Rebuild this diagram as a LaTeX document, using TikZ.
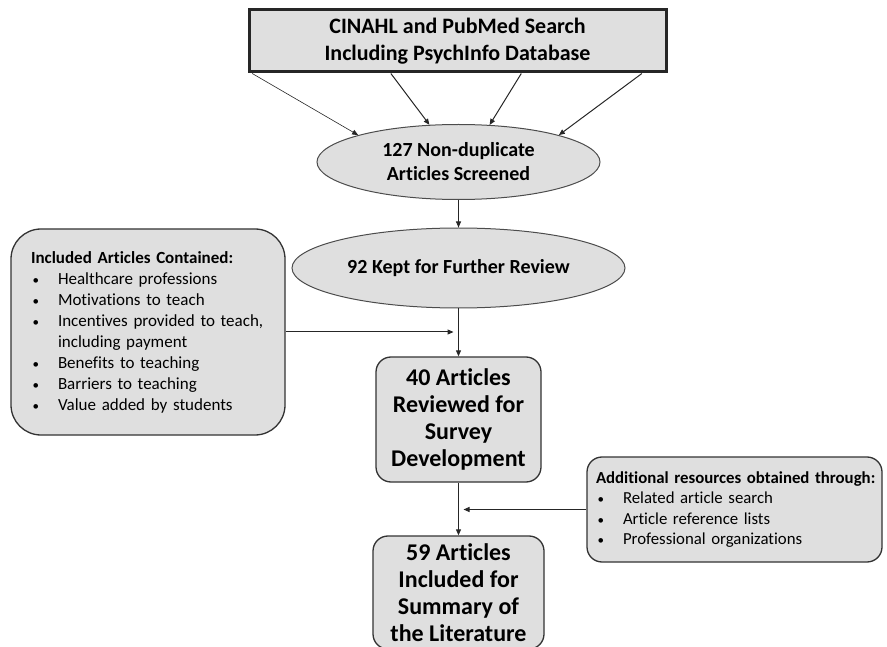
\documentclass[tikz,border=0pt]{standalone}
\usepackage{fontspec}
\setmainfont{Carlito}[Ligatures=NoCommon]
\usetikzlibrary{positioning}
\usetikzlibrary{shapes.geometric}
\usetikzlibrary{arrows.meta}

\newcommand{\itm}[1]{\makebox[27pt][l]{\hspace{1.5pt}{\fontsize{13}{13}\selectfont •}}#1}
\tikzset{
	stagebox/.style={draw=black!80,line width=1.3pt,fill=gray!25,rounded corners=15pt,align=center,
		font=\bfseries\fontsize{24}{27}\selectfont,inner sep=0pt},
	oval/.style={ellipse,draw=black!70,line width=1pt,fill=gray!25,align=center,
		font=\bfseries\fontsize{20}{24}\selectfont,inner sep=0pt},
	notebox/.style={draw=black!80,line width=1.3pt,fill=gray!25,align=left,inner ysep=0pt},
	arr/.style={-{Triangle[length=6pt,width=5pt]},line width=1pt,draw=black!85}
}

\begin{document}
\begin{tikzpicture}[x=1pt,y=-1pt]
	\useasboundingbox (0,0) rectangle (887,647);
	\clip (0,0) rectangle (887,647);
	\node[draw=black!85,line width=3pt,fill=gray!25,minimum width=417,minimum height=62,align=center,
		font=\bfseries\fontsize{22}{27}\selectfont] (search) at (457.5,41)
		{CINAHL and PubMed Search\\Including PsychInfo Database};
	\node[oval,minimum width=283,minimum height=75] (screen) at (458.5,162) {127 Non-duplicate\\Articles Screened};
	\node[oval,minimum width=333,minimum height=80] (kept) at (458.5,268) {92 Kept for Further Review};
	\node[stagebox,minimum width=165,minimum height=125] (review) at (458.5,419.5)
		{40 Articles\\Reviewed for\\Survey\\Development};
	\node[stagebox,minimum width=171,minimum height=113] (summary) at (458.5,592.5)
		{59 Articles\\Included for\\Summary of\\the Literature};
	\node[notebox,rounded corners=30pt,text width=234,inner xsep=20,minimum height=206,
		font=\fontsize{17}{21}\selectfont] (contained) at (148,332)
		{\textbf{Included Articles Contained:}\\
		\itm{Healthcare professions}\\
		\itm{Motivations to teach}\\
		\itm{Incentives provided to teach,}\\
		\hspace*{27pt}including payment\\
		\itm{Benefits to teaching}\\
		\itm{Barriers to teaching}\\
		\itm{Value added by students}};
	\node[notebox,rounded corners=15pt,text width=277,inner xsep=9,minimum height=105,
		font=\fontsize{16.8}{20.5}\selectfont] (extra) at (734.5,509.5)
		{\mbox{\textbf{Additional resources obtained through:}}\\
		\itm{Related article search}\\
		\itm{Article reference lists}\\
		\itm{Professional organizations}};
	% search to screening
	\draw[arr,line width=0.6pt] (search.189) -- (screen.165);
	\draw[arr] (search.206) -- (screen.128);
	\draw[arr] (search.333) -- (screen.50);
	\draw[arr] (search.350) -- (screen.15);
	% main flow
	\draw[arr] (screen.south) -- (kept.north);
	\draw[arr] (kept.south) -- (review.north);
	\draw[arr] (review.south) -- (summary.north);
	\draw[arr] (contained.east) -- ([xshift=-5pt]contained.east -| kept.south);
	\draw[arr] (extra.west) -- ([xshift=5pt]extra.west -| review.south);
\end{tikzpicture}
\end{document}
